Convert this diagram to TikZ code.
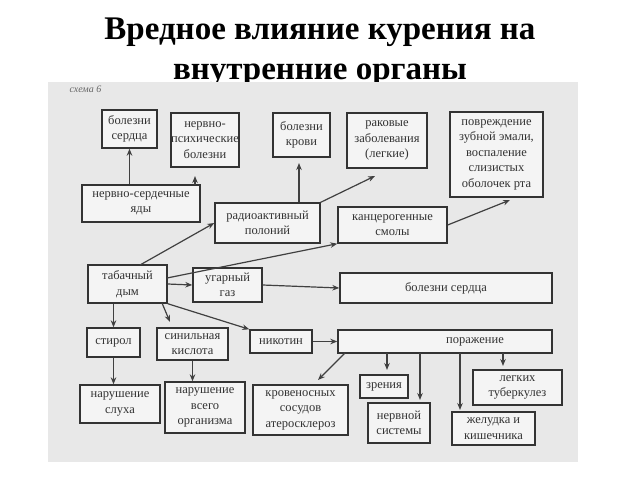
\documentclass[tikz,border=0pt]{standalone}
\usepackage{fontspec}
\setmainfont{Liberation Serif}
\usetikzlibrary{arrows.meta}
\begin{document}
\begin{tikzpicture}[x=1pt,y=-1pt,
  bx/.style={draw=black!80,line width=1.4pt,fill=white!70!gray!30,inner sep=0pt,align=center,font=\fontsize{12.5}{15.5}\selectfont,text=black!80},
  ar/.style={draw=black!75,line width=1.2pt,-{Stealth[length=7pt,width=5.5pt]}}]
\useasboundingbox (0,0) rectangle (640,480);
\fill[white] (0,0) rectangle (640,480);
\node[font=\bfseries\fontsize{33}{40}\selectfont,align=center] (title) at (320,52) {Вредное влияние курения на\\внутренние органы};
\fill[black!9] (48,82) rectangle (578,462);
\node[font=\itshape\fontsize{10}{10}\selectfont,text=black!60,anchor=west] (sch) at (66,89) {схема 6};
\def\B#1#2#3#4#5#6{\node[bx,minimum width=#4-#2,minimum height=#5-#3] (#1) at ({(#2+#4)/2},{(#3+#5)/2}) {#6};}
\B{bs}{102}{110}{157}{148}{болезни\\сердца}
\B{np}{177}{113}{233}{167}{нервно-\\психические\\болезни}
\B{bk}{273}{113}{330}{157}{болезни\\крови}
\B{rz}{347}{113}{427}{168}{раковые\\заболевания\\(легкие)}
\B{pz}{450}{112}{543}{197}{повреждение\\зубной эмали,\\воспаление\\слизистых\\оболочек рта}
\B{ns}{82}{185}{200}{222}{нервно-сердечные\\яды}
\B{rp}{215}{203}{320}{243}{радиоактивный\\полоний}
\B{ks}{338}{207}{447}{243}{канцерогенные\\смолы}
\B{td}{88}{265}{167}{303}{табачный\\дым}
\node[draw=black!80,line width=2.4pt,minimum width=79,minimum height=38] at (td) {};
\B{ug}{193}{268}{262}{302}{угарный\\газ}
\B{bs2}{340}{273}{552}{303}{болезни сердца}
\B{st}{87}{328}{140}{357}{стирол}
\B{sk}{157}{328}{228}{360}{синильная\\кислота}
\B{nk}{250}{330}{312}{353}{никотин}
\B{po}{338}{330}{552}{353}{\hspace*{60pt}поражение}
\B{sl}{80}{385}{160}{423}{нарушение\\слуха}
\B{vo}{165}{382}{245}{433}{нарушение\\всего\\организма}
\B{ka}{253}{385}{348}{435}{кровеносных\\сосудов\\атеросклероз}
\B{zr}{360}{375}{408}{398}{зрения}
\B{nsy}{368}{403}{430}{443}{нервной\\системы}
\B{lt}{473}{370}{562}{405}{легких\\туберкулез}
\B{zk}{452}{412}{535}{445}{желудка и\\кишечника}
\coordinate (c1) at (195,176);
\coordinate (c2) at (375,176);
\coordinate (c3) at (510,200);
\coordinate (c4) at (299,163);
\draw[ar] (ns.north -| bs) -- (bs.south);
\draw[ar] (195,185) -- (c1);
\draw[ar] (rp.north -| c4) -- (c4);
\draw[ar] (rp.north east) -- (c2);
\draw[ar] (ks.east) -- (c3);
\draw[ar] (140,265) -- (rp.west);
\draw[ar] (167,278) -- (ks.south west);
\draw[ar] (td.east) -- (ug.west);
\draw[ar] (ug.east) -- (bs2.west);
\draw[ar] (td.south -| st) -- (st.north);
\draw[ar] (162,303) -- (170,322);
\draw[ar] (td.south east) -- (nk.north west);
\draw[ar] (st.south) -- (st.south |- sl.north);
\draw[ar] (sk.south) -- (sk.south |- vo.north);
\draw[ar] (nk.east) -- (po.west);
\draw[ar] (345,353) -- (318,380);
\draw[ar] (387,353) -- (387,370);
\draw[ar] (420,353) -- (420,400);
\draw[ar] (460,353) -- (460,410);
\draw[ar] (503,353) -- (503,366);
\end{tikzpicture}
\end{document}
